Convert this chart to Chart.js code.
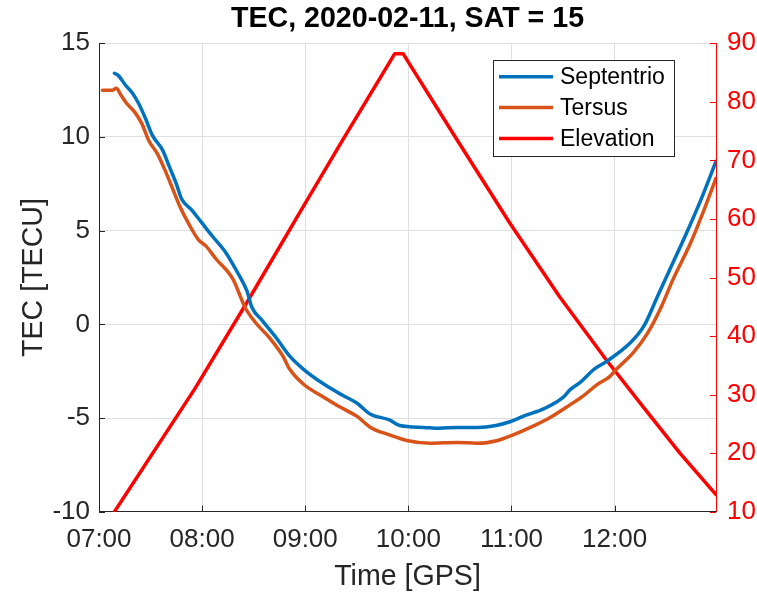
<!DOCTYPE html>
<html>
<head>
<meta charset="utf-8">
<title>TEC, 2020-02-11, SAT = 15</title>
<script src="https://cdn.jsdelivr.net/npm/chart.js@4.4.1/dist/chart.umd.min.js"></script>
<style>
  html, body { margin: 0; padding: 0; background: #fff; }
  canvas { display: block; }
</style>
</head>
<body>
<canvas id="tecChart" width="757" height="596"></canvas>
<script>
// Septentrio receiver TEC (GPS time, TECU)
var septTimes = ['07:09', '07:11', '07:16', '07:19', '07:23', '07:27', '07:31', '07:37', '07:41', '07:45',
                 '07:48', '07:54', '08:00', '08:06', '08:14', '08:21', '08:26', '08:29', '08:35', '08:43',
                 '08:51', '08:59', '09:11', '09:22', '09:30', '09:38', '09:49', '09:55', '10:09', '10:18',
                 '10:28', '10:40', '10:51', '10:59', '11:07', '11:19', '11:30', '11:34', '11:40', '11:48',
                 '11:55', '12:09', '12:17', '12:25', '12:32', '12:42', '12:50', '12:59'];
var septTec = [13.4, 13.3, 12.7, 12.4, 11.8, 11.0, 10.1, 9.3, 8.4, 7.5,
               6.7, 6.1, 5.4, 4.7, 3.8, 2.7, 1.8, 0.9, 0.2, -0.7,
               -1.7, -2.4, -3.2, -3.8, -4.2, -4.8, -5.1, -5.4, -5.5, -5.55,
               -5.5, -5.5, -5.4, -5.2, -4.9, -4.5, -3.9, -3.5, -3.1, -2.4,
               -2.0, -1.0, -0.1, 1.5, 2.9, 4.9, 6.6, 8.7];

// Tersus receiver TEC
var tersTimes = ['07:02', '07:08', '07:10', '07:13', '07:16', '07:21', '07:25', '07:29', '07:34', '07:39',
                 '07:43', '07:47', '07:52', '07:58', '08:02', '08:08', '08:18', '08:25', '08:31', '08:39',
                 '08:47', '08:51', '08:59', '09:11', '09:20', '09:30', '09:38', '09:49', '09:59', '10:13',
                 '10:28', '10:40', '10:52', '11:01', '11:11', '11:22', '11:34', '11:42', '11:50', '11:57',
                 '12:01', '12:11', '12:19', '12:27', '12:34', '12:44', '12:52', '12:59'];
var tersTec = [12.5, 12.5, 12.6, 12.2, 11.8, 11.3, 10.7, 9.8, 9.1, 8.1,
               7.2, 6.3, 5.4, 4.5, 4.2, 3.5, 2.4, 0.9, 0.1, -0.7,
               -1.7, -2.4, -3.2, -3.9, -4.4, -4.9, -5.5, -5.9, -6.2, -6.35,
               -6.3, -6.35, -6.2, -5.9, -5.5, -5.0, -4.3, -3.8, -3.2, -2.8,
               -2.4, -1.5, -0.5, 0.9, 2.4, 4.3, 6.1, 7.8];

// satellite elevation (degrees)
var elevTimes = ['07:09', '07:56', '08:27', '08:56', '09:20', '09:52', '09:57', '10:26', '10:59', '11:28',
                 '11:55', '12:18', '12:38', '12:59'];
var elevDeg = [10, 31.1, 46.2, 60.7, 72.6, 88.2, 88.2, 74.6, 59.3, 46.7,
               36.0, 27.4, 20.0, 12.9];

var xStart = '07:00';
var xEnd = '12:59';
var xTickLabels = ['07:00', '08:00', '09:00', '10:00', '11:00', '12:00'];
var tecTicks = [-10, 15, 5];    // min, max, step
var elevTicks = [10, 90, 10];

var blue = '#0072BD';
var orange = '#D95319';
var red = '#FF0000';
var axisColor = '#262626';
var gridColor = '#dfdfdf';
var fontFamily = '"Liberation Sans", Arial, Helvetica, sans-serif';

function toMin(t) {
    var p = t.split(':');
    return Number(p[0]) * 60 + Number(p[1]);
}

function toPoints(times, values) {
    var pts = [];
    for (let i = 0; i < times.length; i++) {
        pts.push({ x: toMin(times[i]), y: values[i] });
    }
    return pts;
}

function hhmm(v) {
    var h = Math.floor(v / 60), m = Math.round(v - h * 60);
    return String(h).padStart(2, '0') + ':' + String(m).padStart(2, '0');
}

// title centred over the plot box
const plotTitle = {
    id: 'plotTitle',
    afterDraw(chart) {
        const ctx = chart.ctx, a = chart.chartArea;
        ctx.save();
        ctx.font = 'bold 28.6px ' + fontFamily;
        ctx.fillStyle = '#000';
        ctx.textAlign = 'center';
        ctx.textBaseline = 'middle';
        ctx.fillText('TEC, 2020-02-11, SAT = 15', (a.left + a.right) / 2, 19);
        ctx.restore();
    }
};

// short tick marks pointing into the plot
const inwardTicks = {
    id: 'inwardTicks',
    afterDatasetsDraw(chart) {
        const ctx = chart.ctx, a = chart.chartArea, s = chart.scales;
        const len = 6;
        ctx.save();
        ctx.lineWidth = 1;
        ctx.strokeStyle = axisColor;
        ctx.beginPath();
        s.x.ticks.forEach(t => {
            const px = Math.round(s.x.getPixelForValue(t.value)) + 0.5;
            ctx.moveTo(px, a.bottom);
            ctx.lineTo(px, a.bottom - len);
        });
        s.y.ticks.forEach(t => {
            const py = Math.round(s.y.getPixelForValue(t.value)) + 0.5;
            ctx.moveTo(a.left, py);
            ctx.lineTo(a.left + len, py);
        });
        ctx.stroke();
        ctx.strokeStyle = red;
        ctx.beginPath();
        s.y2.ticks.forEach(t => {
            const py = Math.round(s.y2.getPixelForValue(t.value)) + 0.5;
            ctx.moveTo(a.right, py);
            ctx.lineTo(a.right - len, py);
        });
        ctx.stroke();
        ctx.restore();
    }
};

// boxed legend inside the upper right of the plot
const boxLegend = {
    id: 'boxLegend',
    afterDraw(chart) {
        const ctx = chart.ctx, a = chart.chartArea;
        const w = 181, h = 96;
        const x0 = a.right - 42 - w, y0 = a.top + 17;
        ctx.save();
        ctx.fillStyle = '#fff';
        ctx.fillRect(x0, y0, w, h);
        ctx.strokeStyle = axisColor;
        ctx.lineWidth = 1;
        ctx.strokeRect(Math.round(x0) + 0.5, Math.round(y0) + 0.5, w, h);
        ctx.font = '23px ' + fontFamily;
        ctx.textBaseline = 'middle';
        chart.data.datasets.forEach((ds, i) => {
            const ry = y0 + 16.5 + i * 30.8;
            ctx.strokeStyle = ds.borderColor;
            ctx.lineWidth = 3.5;
            ctx.beginPath();
            ctx.moveTo(x0 + 6, ry);
            ctx.lineTo(x0 + 60, ry);
            ctx.stroke();
            ctx.fillStyle = '#000';
            ctx.fillText(ds.label, x0 + 67, ry + 1);
        });
        ctx.restore();
    }
};

new Chart(document.getElementById('tecChart'), {
    type: 'line',
    data: {
        datasets: [{
            label: 'Septentrio',
            data: toPoints(septTimes, septTec),
            borderColor: blue,
            borderWidth: 3.5,
            cubicInterpolationMode: 'monotone',
            yAxisID: 'y'
        }, {
            label: 'Tersus',
            data: toPoints(tersTimes, tersTec),
            borderColor: orange,
            borderWidth: 3.5,
            cubicInterpolationMode: 'monotone',
            yAxisID: 'y'
        }, {
            label: 'Elevation',
            data: toPoints(elevTimes, elevDeg),
            borderColor: red,
            borderWidth: 3.5,
            yAxisID: 'y2'
        }]
    },
    options: {
        responsive: false,
        animation: false,
        devicePixelRatio: 1,
        layout: { padding: { top: 43.3, left: 0, right: 0, bottom: 0 } },
        elements: {
            point: { radius: 0 },
            line: { tension: 0, borderJoinStyle: 'round', borderCapStyle: 'round' }
        },
        plugins: {
            legend: { display: false },
            title: { display: false },
            tooltip: { enabled: false }
        },
        scales: {
            x: {
                type: 'linear',
                min: toMin(xStart),
                max: toMin(xEnd),
                afterFit: function (scale) { scale.height = 84.3; },
                afterBuildTicks: function (scale) {
                    scale.ticks = xTickLabels.map(t => ({ value: toMin(t) }));
                },
                ticks: {
                    maxRotation: 0,
                    autoSkip: false,
                    padding: 12.4,
                    color: axisColor,
                    font: { family: fontFamily, size: 26 },
                    callback: function (v) { return hhmm(v); }
                },
                grid: { color: gridColor, drawTicks: false },
                border: { color: axisColor, width: 1 },
                title: {
                    display: true,
                    text: 'Time [GPS]',
                    color: axisColor,
                    font: { family: fontFamily, size: 28.6 },
                    padding: { top: 0, bottom: 1.3 }
                }
            },
            y: {
                position: 'left',
                min: tecTicks[0],
                max: tecTicks[1],
                afterFit: function (scale) { scale.width = 99; },
                ticks: {
                    stepSize: tecTicks[2],
                    padding: 9,
                    color: axisColor,
                    font: { family: fontFamily, size: 26 }
                },
                grid: { color: gridColor, drawTicks: false },
                border: { color: axisColor, width: 1 },
                title: {
                    display: true,
                    text: 'TEC [TECU]',
                    color: axisColor,
                    font: { family: fontFamily, size: 28.6 },
                    padding: { top: 17, bottom: 0 }
                }
            },
            y2: {
                position: 'right',
                min: elevTicks[0],
                max: elevTicks[1],
                afterFit: function (scale) { scale.width = 41; },
                ticks: {
                    stepSize: elevTicks[2],
                    padding: 11,
                    color: red,
                    font: { family: fontFamily, size: 26 }
                },
                grid: { drawOnChartArea: false, drawTicks: false },
                border: { color: red, width: 1 }
            }
        }
    },
    plugins: [inwardTicks, boxLegend, plotTitle]
});
</script>
</body>
</html>
